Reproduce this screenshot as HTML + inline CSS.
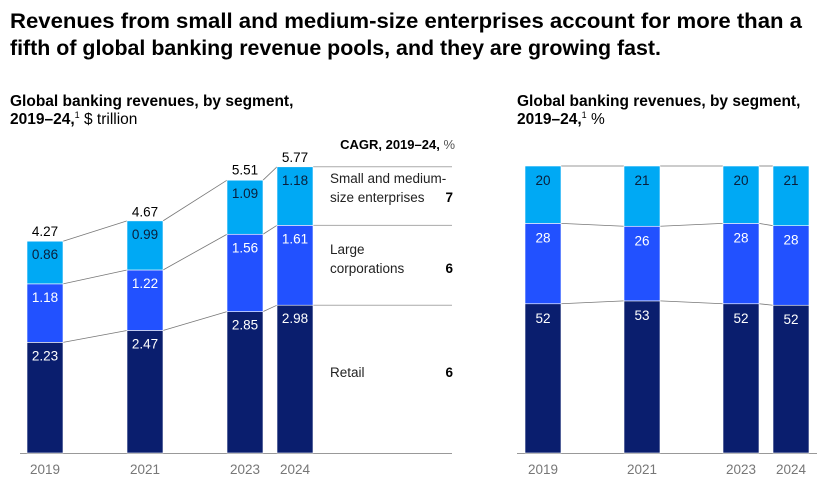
<!DOCTYPE html>
<html><head><meta charset="utf-8"><style>
html,body{margin:0;padding:0;background:#fff}
svg{display:block;font-family:"Liberation Sans",Arial,sans-serif}
</style></head><body>
<svg id="chart" width="828" height="492" viewBox="0 0 828 492">
<text x="10" y="28" font-size="21" font-weight="bold" fill="#000" textLength="792" lengthAdjust="spacingAndGlyphs">Revenues from small and medium-size enterprises account for more than a</text>
<text x="10" y="55" font-size="21" font-weight="bold" fill="#000" textLength="651" lengthAdjust="spacingAndGlyphs">fifth of global banking revenue pools, and they are growing fast.</text>
<text x="10" y="106" font-size="15.5" font-weight="bold" fill="#000">Global banking revenues, by segment,</text>
<text x="10" y="124" font-size="15.5" fill="#000"><tspan font-weight="bold">2019–24,</tspan><tspan font-size="9" dy="-6">1</tspan><tspan dy="6"> $ trillion</tspan></text>
<text x="517" y="106" font-size="15.5" font-weight="bold" fill="#000">Global banking revenues, by segment,</text>
<text x="517" y="124" font-size="15.5" fill="#000"><tspan font-weight="bold">2019–24,</tspan><tspan font-size="9" dy="-6">1</tspan><tspan dy="6"> %</tspan></text>
<text x="455" y="149" font-size="13" text-anchor="end" fill="#000"><tspan font-weight="bold">CAGR, 2019–24,</tspan><tspan fill="#555"> %</tspan></text>
<g id="left"></g><g id="right"></g>
</svg>
<script>
const years = ["2019","2021","2023","2024"];
const retail = [2.23,2.47,2.85,2.98];
const large = [1.18,1.22,1.56,1.61];
const sme = [0.86,0.99,1.09,1.18];
const totals = [4.27,4.67,5.51,5.77];
const retailPct = [52,53,52,52];
const largePct = [28,26,28,28];
const smePct = [20,21,20,21];
const segNames = [["Retail"],["Large","corporations"],["Small and medium-","size enterprises"]];
const cagr = [6,6,7];

const NS="http://www.w3.org/2000/svg";
const colors=["#0a1e6e","#2251ff","#00a9f4"];
const txtCol=["#fff","#fff","#0a1e3a"];
function mk(parent,tag,attrs,text){const e=document.createElementNS(NS,tag);for(const k in attrs)e.setAttribute(k,attrs[k]);if(text!==undefined)e.textContent=text;parent.appendChild(e);return e;}
const leftX=[27,127,227,277], rightX=[525,624,723,773], bw=36, base=453;

// left chart
const L=document.getElementById('left');
const yL=v=>base-v*49.6;
mk(L,'line',{x1:20,x2:452,y1:base+0.5,y2:base+0.5,stroke:'#999','stroke-width':1});
const segsL=[retail,large,sme];
for(let i=0;i<3;i++){let cum=[0,1,2,3].map(j=>segsL.slice(0,i+1).reduce((a,s)=>a+s[j],0));
 for(let j=0;j<3;j++){const c=mk(L,'line',{x1:leftX[j]+bw,y1:yL(cum[j]),x2:leftX[j+1],y2:yL(cum[j+1]),stroke:'#777','stroke-width':0.8});
 }
 const g=mk(L,'line',{x1:leftX[3]+bw,x2:452,y1:yL(cum[3]),y2:yL(cum[3]),stroke:'#aaa','stroke-width':1});
 }
years.forEach((yr,j)=>{let cum=0;
 for(let i=0;i<3;i++){const v=segsL[i][j];const top=yL(cum+v),bot=yL(cum);
  const r=mk(L,'rect',{x:leftX[j],y:top,width:bw,height:bot-top,fill:colors[i],stroke:'#fff','stroke-width':0.6});
  
  const t=mk(L,'text',{x:leftX[j]+bw/2,y:top+18,'text-anchor':'middle','font-size':13.5,fill:txtCol[i]},v.toFixed(2));
  
  cum+=v;}
 const tt=mk(L,'text',{x:leftX[j]+bw/2,y:yL(totals[j])-5,'text-anchor':'middle','font-size':13.5,fill:'#000'},totals[j].toFixed(2));
 
 const xl=mk(L,'text',{x:leftX[j]+bw/2,y:474,'text-anchor':'middle','font-size':13.5,fill:'#777'},yr);
 
});
const legY=[[377],[254,273],[183,202]];
for(let i=0;i<3;i++){segNames[i].forEach((n,k)=>{const t=mk(L,'text',{x:330,y:legY[i][k],'font-size':13.5,fill:'#222'},n);});
 const c=mk(L,'text',{x:453,y:legY[i][legY[i].length-1],'font-size':13.5,'font-weight':'bold','text-anchor':'end',fill:'#000'},cagr[i]);
 }

// right chart (each bar normalized to full height)
const R=document.getElementById('right');
const H=287;
mk(R,'line',{x1:517,x2:817,y1:base+0.5,y2:base+0.5,stroke:'#999','stroke-width':1});
const segsR=[retailPct,largePct,smePct];
const sums=[0,1,2,3].map(j=>segsR.reduce((a,s)=>a+s[j],0));
const yR=(p,j)=>base-p/sums[j]*H;
for(let i=0;i<3;i++){let cum=[0,1,2,3].map(j=>segsR.slice(0,i+1).reduce((a,s)=>a+s[j],0));
 for(let j=0;j<3;j++){const c=mk(R,'line',{x1:rightX[j]+bw,y1:yR(cum[j],j),x2:rightX[j+1],y2:yR(cum[j+1],j+1),stroke:'#777','stroke-width':0.8});
 }}
years.forEach((yr,j)=>{let cum=0;
 for(let i=0;i<3;i++){const v=segsR[i][j];const top=yR(cum+v,j),bot=yR(cum,j);
  const r=mk(R,'rect',{x:rightX[j],y:top,width:bw,height:bot-top,fill:colors[i],stroke:'#fff','stroke-width':0.6});
  
  const t=mk(R,'text',{x:rightX[j]+bw/2,y:top+19,'text-anchor':'middle','font-size':13.5,fill:txtCol[i]},v);
  
  cum+=v;}
 const xl=mk(R,'text',{x:rightX[j]+bw/2,y:474,'text-anchor':'middle','font-size':13.5,fill:'#777'},yr);
 
});
</script>
</body></html>
